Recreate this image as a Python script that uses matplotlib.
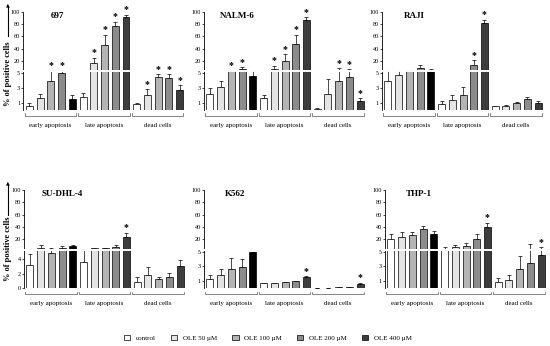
import matplotlib.pyplot as plt
import numpy as np
from matplotlib.patches import Patch

plt.rcParams['font.family'] = ['Liberation Serif', 'DejaVu Serif']

groups = ['early apoptosis', 'late apoptosis', 'dead cells']
treatments = ['control', 'OLE 50 µM', 'OLE 100 µM', 'OLE 200 µM', 'OLE 400 µM']

# values (% positive cells), upper error, significance star; 5 bars per group
v_697 = [0.6, 1.7, 3.9, 5.0, 1.46, 1.8, 17.3, 45.7, 76.5, 91, 0.87, 2.05, 4.5, 4.4, 2.8]
e_697 = [0.3, 0.5, 4.6, 3.8, 0.6, 0.55, 8.4, 16.7, 7.5, 4.4, 0.1, 0.8, 0.4, 0.5, 0.6]
s_697 = [0, 0, 1, 1, 0, 0, 1, 1, 1, 1, 0, 1, 1, 1, 1]

v_nalm = [2.2, 3.2, 8.0, 10.9, 4.6, 1.64, 10.9, 19.8, 47.8, 87.2, 0.18, 2.2, 3.9, 4.5, 1.23]
e_nalm = [0.8, 0.8, 0.8, 1.6, 3.4, 0.4, 3.6, 11.3, 15.2, 3.8, 0.1, 2.1, 7.4, 5.6, 0.37]
s_nalm = [0, 0, 1, 1, 0, 0, 1, 1, 1, 1, 0, 0, 1, 1, 1]

v_raji = [3.97, 4.8, 8.8, 12.1, 9.7, 0.87, 1.4, 2.0, 15.3, 81.3, 0.5, 0.6, 0.95, 1.5, 0.95]
e_raji = [5.7, 4.5, 0.5, 2.8, 0.3, 0.4, 0.6, 1.1, 6.0, 5.7, 0.1, 0.05, 0.1, 0.3, 0.3]
s_raji = [0, 0, 0, 0, 0, 0, 0, 0, 1, 1, 0, 0, 0, 0, 0]

v_sudhl = [3.13, 10.0, 4.83, 9.6, 12.0, 3.63, 9.6, 9.6, 11.2, 23.5, 0.83, 1.84, 1.24, 1.6, 2.99]
e_sudhl = [1.56, 3.7, 4.4, 2.4, 1.7, 5.2, 0.4, 0.4, 1.6, 7.1, 0.7, 1.05, 0.37, 0.46, 0.83]
s_sudhl = [0, 0, 0, 0, 0, 0, 0, 0, 0, 1, 0, 0, 0, 0, 0]

v_k562 = [1.3, 1.8, 2.7, 2.95, 4.9, 0.73, 0.68, 0.8, 0.95, 1.55, 0.09, 0.09, 0.13, 0.22, 0.64]
e_k562 = [0.55, 0.9, 1.4, 1.05, 0.2, 0.05, 0.05, 0.05, 0.05, 0.1, 0.0, 0.0, 0.0, 0.0, 0.1]
s_k562 = [0, 0, 0, 0, 0, 0, 0, 0, 0, 1, 0, 0, 0, 0, 1]

v_thp = [21, 24.7, 26.9, 36.6, 29, 8.6, 10.2, 12.3, 20.8, 39.3, 0.86, 1.14, 2.64, 3.5, 4.6]
e_thp = [7.5, 8.1, 5.1, 4.8, 4.4, 2.1, 2.8, 2.8, 7.7, 7.4, 0.5, 0.7, 1.8, 10.8, 5.6]
s_thp = [0, 0, 0, 0, 0, 0, 0, 0, 0, 1, 0, 0, 0, 0, 1]

ticks_a = [1, 3, 5, 20, 40, 60, 80, 100]
ticks_b = [0, 2, 4, 20, 40, 60, 80, 100]

colors = ['white', '#e4e4e4', '#b4b4b4', '#8c8c8c', '#3c3c3c']


# broken axis: 0-5 linear, then 20-unit steps compressed
def fwd(v):
    v = np.asarray(v, dtype=float)
    return np.where(v <= 5, v, np.where(v <= 20, 5 + (v - 5) / 15 * 1.69, 5 + v * 0.0845))


def inv(y):
    y = np.asarray(y, dtype=float)
    return np.where(y <= 5, y, np.where(y <= 6.69, 5 + (y - 5) / 1.69 * 15, (y - 5) / 0.0845))


fig = plt.figure(figsize=(5.5, 3.46), dpi=100)
W, H = 550, 346


def panel(left_px, bottom_px, title, vals, errs, stars, ticks, title_x):
    ax = fig.add_axes([left_px / W, 1 - bottom_px / H, 162 / W, 98.3 / H])
    ax.set_yscale('function', functions=(fwd, inv))
    x = np.arange(15)
    cols = [colors[i % 5] for i in range(15)]
    cols[4] = 'black'
    ax.bar(x, vals, width=0.65, color=cols, edgecolor='black', linewidth=0.5, zorder=2)
    ax.errorbar(x, vals, yerr=[np.zeros(15), errs], fmt='none', ecolor='black',
                elinewidth=0.5, capsize=1.3, capthick=0.5, zorder=1)
    for xi, v, e, s in zip(x, vals, errs, stars):
        if s:
            ax.annotate('*', (xi, v + e), xytext=(0, 0.3), textcoords='offset points',
                        ha='center', va='bottom', fontsize=7, fontweight='bold')
    ax.set_xlim(-0.6, 14.5)
    ax.set_ylim(0, 100)
    ax.set_yticks(ticks)
    ax.set_yticklabels([str(t) for t in ticks], fontsize=4.5)
    ax.yaxis.set_minor_locator(plt.NullLocator())
    ax.tick_params(axis='y', length=1.5, width=0.5, pad=0.5)
    ax.set_xticks([])
    for sp in ['top', 'right', 'bottom']:
        ax.spines[sp].set_visible(False)
    ax.spines['left'].set_linewidth(0.6)
    # white gap marking the break
    ax.axhline(7.6, xmin=-0.015, xmax=1, color='white', linewidth=1.4, zorder=5, clip_on=False)
    ax.text(title_x, 1.0, title, transform=ax.transAxes, fontsize=6.5,
            fontweight='bold', ha='left', va='top')
    tr = ax.get_xaxis_transform()
    for g, name in enumerate(groups):
        x0, x1 = 5 * g - 0.45, 5 * g + 4.35
        ax.plot([x0, x0, x1, x1], [-0.035, -0.058, -0.058, -0.035], color='#555555',
                linewidth=0.5, transform=tr, clip_on=False)
        ax.text((x0 + x1) / 2, -0.155, name, transform=tr, fontsize=5,
                ha='center', va='center')
    return ax


panel(23, 110, '697', v_697, e_697, s_697, ticks_a, 0.17)
panel(203.5, 110, 'NALM-6', v_nalm, e_nalm, s_nalm, ticks_a, 0.10)
panel(381.5, 110, 'RAJI', v_raji, e_raji, s_raji, ticks_a, 0.14)
panel(23.5, 288.3, 'SU-DHL-4', v_sudhl, e_sudhl, s_sudhl, ticks_b, 0.11)
panel(203.5, 288.3, 'K562', v_k562, e_k562, s_k562, ticks_a, 0.13)
panel(384.5, 288.3, 'THP-1', v_thp, e_thp, s_thp, ticks_a, 0.13)

# y label with arrow (two rows)
for yc, ya, yb in [(73.5, 36, 2), (248.5, 215, 180)]:
    fig.text(8 / W, 1 - yc / H, '% of positive cells', rotation=90, fontsize=6,
             fontweight='bold', ha='center', va='center')
    fig.add_artist(plt.Line2D([8 / W, 8 / W], [1 - ya / H, 1 - (yb + 4) / H],
                              color='black', linewidth=0.8))
    fig.text(8 / W, 1 - (yb + 3) / H, '▲', fontsize=3.5, ha='center', va='center',
             family='DejaVu Sans')

handles = [Patch(facecolor=c, edgecolor='black', linewidth=0.5) for c in colors]
fig.legend(handles, treatments, loc='center', bbox_to_anchor=(0.487, 0.024), ncol=5,
           fontsize=5, frameon=False, handlelength=0.9, handleheight=0.9,
           columnspacing=2.2, handletextpad=0.8)

plt.savefig('out.png', dpi=100)
